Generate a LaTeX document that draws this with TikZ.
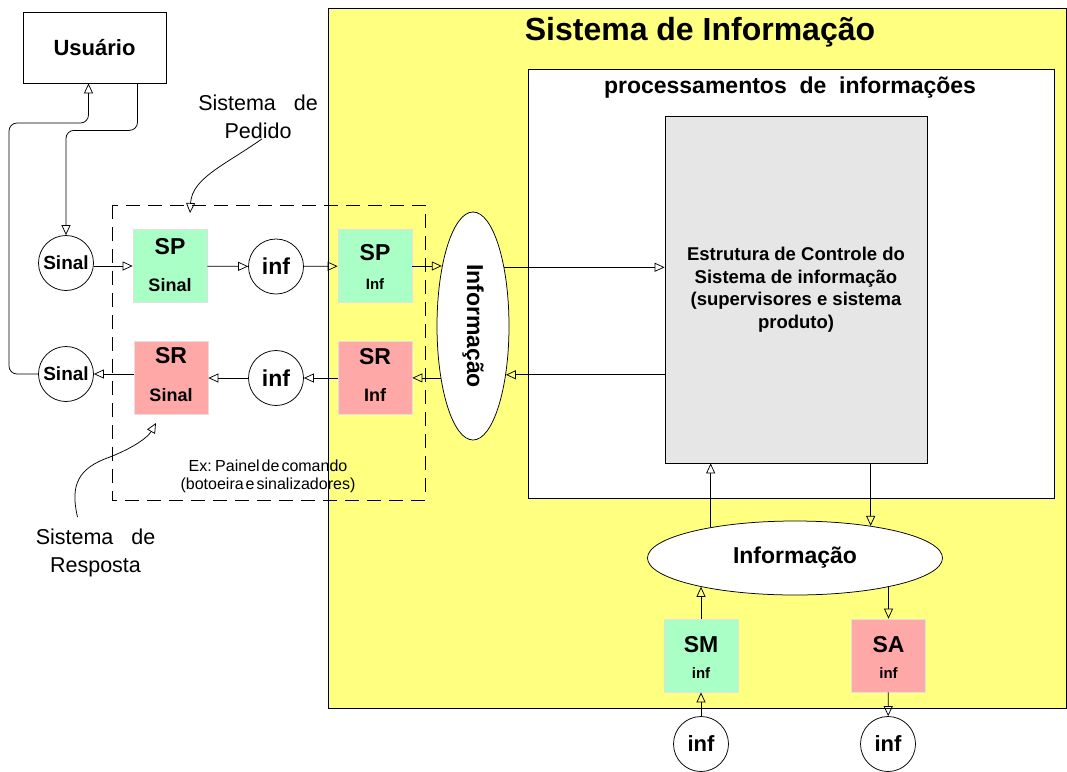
\documentclass[tikz,border=0pt]{standalone}
\usepackage{fontspec}
\setmainfont{Liberation Sans}
\usetikzlibrary{arrows.meta,shapes.geometric}
\definecolor{amarelo}{RGB}{255,255,128}
\definecolor{verde}{RGB}{170,255,198}
\definecolor{rosa}{RGB}{255,168,168}
\definecolor{cinza}{RGB}{230,230,230}

\begin{document}
\begin{tikzpicture}[x=1pt,y=-1pt,line width=0.75pt,
  seta/.style={-{Triangle[open,length=10pt,width=9pt]}},
  negrito/.style={font=\fontsize{#1}{#1}\selectfont\bfseries},
  normal/.style={font=\fontsize{#1}{#1}\selectfont},
  bloco/.style={draw=black!12,minimum width=74pt,minimum height=73pt,inner sep=0pt},
  circulo/.style={circle,draw,fill=white,minimum size=55pt,inner sep=0pt},
  elipse/.style={ellipse,draw,fill=white,inner sep=0pt},
  tracejado/.style={dash pattern=on 14pt off 8pt}]
\useasboundingbox (0,0) rectangle (1067,771);
% sistema de informacao
\draw[fill=amarelo] (328,8) rectangle (1066,708);
\node[negrito=32] (titulo) at (700,32) {Sistema de Informação};
\node[draw,fill=white,minimum width=526pt,minimum height=429pt] (proc) at (791,283.5) {};
\node[negrito=23] (procT) at (790,88) {processamentos\ \ de\ \ informações};
\node[draw,fill=cinza,minimum width=262pt,minimum height=347pt,align=center,
  font=\fontsize{18.5}{22.5}\selectfont\bfseries] (ctl) at (796,289.5)
  {Estrutura de Controle do\\Sistema de informação\\(supervisores e sistema\\produto)};
\draw[tracejado] (112,205) rectangle (425,500);
\node[draw,minimum width=143pt,minimum height=71pt,negrito=22] (usr) at (94.5,47.5) {Usuário};
\node[circulo,negrito=19] (sin1) at (66,263) {Sinal};
\node[circulo,negrito=19] (sin2) at (66,374) {Sinal};
\node[circulo,negrito=23] (inf1) at (276,266.5) {inf};
\node[circulo,negrito=23] (inf2) at (276,378) {inf};
\node[circulo,negrito=22] (inf3) at (701,744) {inf};
\node[circulo,negrito=22] (inf4) at (888,744) {inf};
\foreach \n/\x/\y/\a/\da/\b/\db/\tb/\cor in %
{sps/170/266/SP/19/Sinal/-19/18/verde,spi/375/266/SP/13/Inf/-18/15/verde,
 srs/171/378/SR/22/Sinal/-17/18/rosa,sri/375/378/SR/21/Inf/-17/18/rosa,
 smi/701/655.5/SM/11/inf/-18/15/verde,sai/888.5/655.5/SA/11/inf/-18/15/rosa} {
   \node[bloco,fill=\cor] (\n) at (\x,\y) {};
   \node[negrito=23] (\n-a) at ([yshift=\da pt]\n.center) {\a};
   \node[negrito=\tb] (\n-b) at ([yshift=\db pt]\n.center) {\b};
}
\node[elipse,minimum width=72pt,minimum height=228pt,
  label={[negrito=23,rotate=-90]center:Informação}] (infv) at (473,326) {};
\node[elipse,minimum width=295pt,minimum height=74pt,negrito=23] (infh) at (795,558) {Informação};
\node[normal=21.5,align=center] (ped) at (258,117) {Sistema\ \ \ de\\[7pt]Pedido};
\node[normal=21.5,align=center] (resp) at (95.5,553) {Sistema\ \ \ de\\[7pt]Resposta};
\node[normal=16,align=center] (ex) at (268,476)
  {\spaceskip=2pt Ex: Painel de comando\\[2pt]\spaceskip=2pt (botoeira e sinalizadores)};
\coordinate (pontaP) at (190,213);
\coordinate (pontaR) at (156,423);
% conexoes
\draw[seta,rounded corners=8pt] ([xshift=43pt]usr.south) -- ++(0,47) -| (sin1.north);
\draw[seta,rounded corners=8pt] (sin2.west) -| (9,123) -| ([xshift=-6pt]usr.south);
\draw[seta] (sin1.east |- sps.west) -- (sps.west);
\draw[seta] (sps) -- (inf1);
\draw[seta] (inf1) -- (spi);
\draw[seta] (spi.east) -- (spi.east -| infv.118);
\draw[seta] (infv.62) -- (infv.62 -| ctl.west);
\draw[seta] (ctl.west |- infv.-56) -- (infv.-56);
\draw[seta] (infv.238) -- (infv.238 -| sri.east);
\draw[seta] (sri) -- (inf2);
\draw[seta] (inf2) -- (srs);
\draw[seta] (srs.west |- sin2.east) -- (sin2.east);
\draw[seta] (ctl.south -| infh.23) -- (infh.23);
\draw[seta] (infh.160) -- (infh.160 |- ctl.south);
\draw[seta] (smi.north) -- (smi.north |- infh.197);
\draw[seta] (sai.north |- infh.-17) -- (sai.north);
\draw[seta] (inf3) -- (smi);
\draw[seta] (sai) -- (inf4);
\draw[seta] ([shift={(4pt,4pt)}]ped.south) .. controls (225,165) and (192,178) .. (pontaP);
\draw[seta] ([shift={(-18pt,8pt)}]resp.north) .. controls (70,485) and (78,468) .. (110,457)
  .. controls (135,447) and (148,437) .. (pontaR);
\end{tikzpicture}
\end{document}
